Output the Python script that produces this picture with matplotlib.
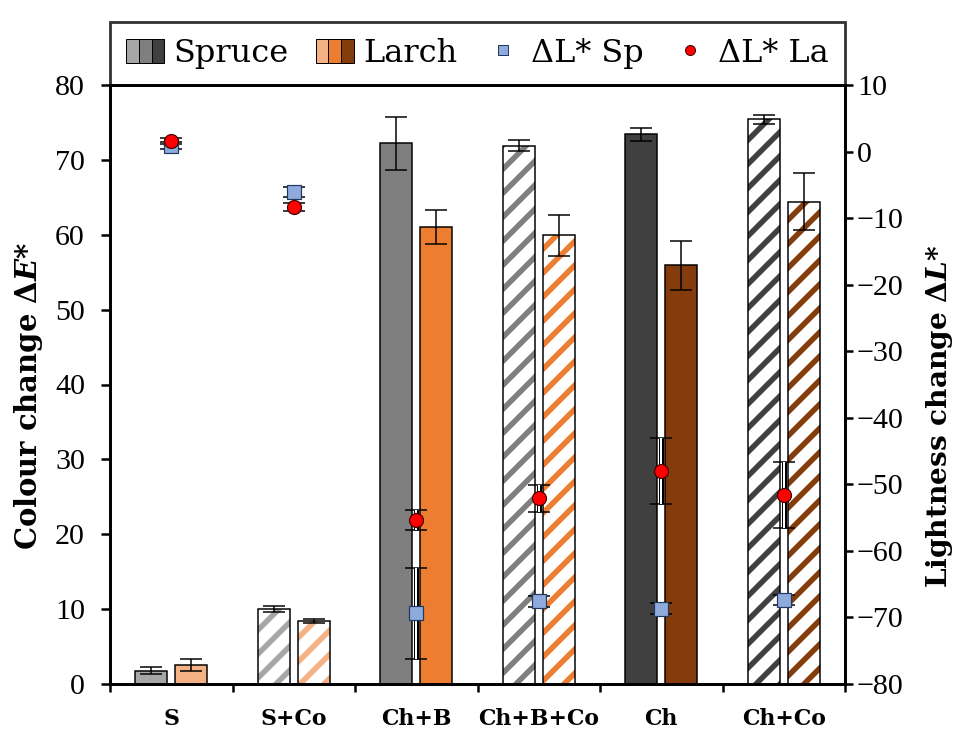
import matplotlib
matplotlib.use("Agg")
import matplotlib.pyplot as plt
import numpy as np
from matplotlib.patches import Patch
from matplotlib.lines import Line2D
from matplotlib.legend_handler import HandlerTuple

categories = ['S', 'S+Co', 'Ch+B', 'Ch+B+Co', 'Ch', 'Ch+Co']
spruce_dE = [1.8, 10.0, 72.2, 71.9, 73.4, 75.4]
spruce_dE_err = [0.5, 0.4, 3.5, 0.7, 0.9, 0.6]
larch_dE = [2.6, 8.4, 61.0, 59.9, 55.9, 64.4]
larch_dE_err = [0.8, 0.3, 2.3, 2.7, 3.3, 3.8]
sp_dL = [0.9, -6.1, -69.4, -67.6, -68.7, -67.4]
sp_dL_err = [0.5, 0.8, 6.8, 0.8, 0.8, 0.8]
la_dL = [1.6, -8.4, -55.3, -52.1, -48.0, -51.6]
la_dL_err = [0.5, 0.6, 1.5, 2.0, 4.9, 4.9]

spruce_cols = ['#a6a6a6', '#a6a6a6', '#7f7f7f', '#7f7f7f', '#404040', '#404040']
larch_cols = ['#f4b183', '#f4b183', '#ed7d31', '#ed7d31', '#843c0c', '#843c0c']
hatched = [False, True, False, True, False, True]

TXT = ['DejaVu Serif']
NUM = ['Liberation Serif', 'DejaVu Serif']
plt.rcParams['font.family'] = NUM
plt.rcParams['mathtext.fontset'] = 'custom'
plt.rcParams['mathtext.rm'] = 'DejaVu Serif'
plt.rcParams['mathtext.it'] = 'DejaVu Serif:italic'
plt.rcParams['mathtext.bf'] = 'DejaVu Serif:bold'
plt.rcParams['mathtext.bfit'] = 'DejaVu Serif:bold:italic'
plt.rcParams['hatch.linewidth'] = 5.5
plt.rcParams['axes.unicode_minus'] = True

DPI = 72
fig = plt.figure(figsize=(960 / DPI, 736 / DPI), dpi=DPI)
ax = fig.add_axes([110 / 960, 52 / 736, 735 / 960, 599 / 736])

x = np.arange(len(categories))
off = 0.163
w = 0.26

for i in x:
    for xo, h, e, c in [(-off, spruce_dE[i], spruce_dE_err[i], spruce_cols[i]),
                        (off, larch_dE[i], larch_dE_err[i], larch_cols[i])]:
        if hatched[i]:
            ax.bar(i + xo, h, w, color='white', edgecolor=c, hatch='/', linewidth=0, zorder=2)
            ax.bar(i + xo, h, w, fill=False, edgecolor='black', linewidth=1.5, zorder=3)
        else:
            ax.bar(i + xo, h, w, color=c, edgecolor='black', linewidth=1.5, zorder=2)
        ax.errorbar(i + xo, h, yerr=e, fmt='none', ecolor='black', elinewidth=1.5,
                    capsize=11, capthick=1.5, zorder=4)

ax.set_xlim(-0.5, 5.5)
ax.set_ylim(0, 80)
ax.set_yticks(np.arange(0, 81, 10))
ax.set_xticks(np.arange(-0.5, 6, 1))
ax.set_xticklabels([])
ax.set_xticks(x, minor=True)
ax.set_xticklabels(categories, minor=True, fontweight='bold', fontsize=22, family=TXT)
ax.tick_params(axis='x', which='minor', length=0, pad=24)
ax.tick_params(axis='x', which='major', length=8, width=2.5, direction='out')
ax.tick_params(axis='y', length=9, width=2.5, direction='out', labelsize=30, pad=16)
for s in ax.spines.values():
    s.set_linewidth(2.8)
ax.set_ylabel(r'Colour change Δ$\mathbfit{E}$*', fontsize=29, fontweight='bold',
              family=TXT)
ax.yaxis.set_label_coords(-0.088, 0.48)

ax2 = ax.twinx()
ax2.set_ylim(-80, 10)
ax2.set_yticks(np.arange(-80, 11, 10))
ax2.tick_params(axis='y', length=8, width=2.5, direction='out', labelsize=30, pad=4)
for s in ax2.spines.values():
    s.set_linewidth(2.8)

def white_err(axx, xv, yv, ev):
    axx.errorbar(xv, yv, yerr=ev, fmt='none', ecolor='black', elinewidth=5,
                 capsize=11, capthick=1.5, zorder=5)
    axx.errorbar(xv, yv, yerr=ev, fmt='none', ecolor='white', elinewidth=2,
                 capsize=0, zorder=6)

white_err(ax2, x, sp_dL, sp_dL_err)
white_err(ax2, x, la_dL, la_dL_err)
ax2.plot(x, sp_dL, linestyle='none', marker='s', markersize=14, markerfacecolor='#8faadc',
         markeredgecolor='#1f3a5f', markeredgewidth=1.2, zorder=7)
ax2.plot(x, la_dL, linestyle='none', marker='o', markersize=14, markerfacecolor='#ff0000',
         markeredgecolor='#400000', markeredgewidth=1.2, zorder=8)
ax2.set_ylabel(r'Lightness change Δ$\mathbfit{L}$*', fontsize=28, fontweight='bold',
               family=TXT, rotation=90)
ax2.yaxis.set_label_coords(1.107, 0.446)

# legend
sp_h = tuple(Patch(facecolor=c, edgecolor='black', linewidth=1) for c in ['#a6a6a6', '#7f7f7f', '#404040'])
la_h = tuple(Patch(facecolor=c, edgecolor='black', linewidth=1) for c in ['#f4b183', '#ed7d31', '#843c0c'])
sq_h = Line2D([], [], linestyle='none', marker='s', markersize=10, markerfacecolor='#8faadc',
              markeredgecolor='#1f3a5f')
ci_h = Line2D([], [], linestyle='none', marker='o', markersize=10, markerfacecolor='#ff0000',
              markeredgecolor='#400000')
leg = ax.legend([sp_h, la_h, sq_h, ci_h], ['Spruce', 'Larch', 'ΔL* Sp', 'ΔL* La'],
                handler_map={tuple: HandlerTuple(ndivide=None, pad=0)},
                loc='lower left', bbox_to_anchor=(0, 1.0, 1, 0.117), mode='expand',
                ncol=4, borderaxespad=0, prop={'family': TXT, 'size': 32},
                frameon=True, fancybox=False,
                handlelength=1.2, handleheight=0.8, handletextpad=0.28, columnspacing=0.8,
                borderpad=0.5)
leg.get_frame().set_edgecolor('black')
leg.get_frame().set_linewidth(2.8)

fig.savefig('out.png', dpi=DPI)
